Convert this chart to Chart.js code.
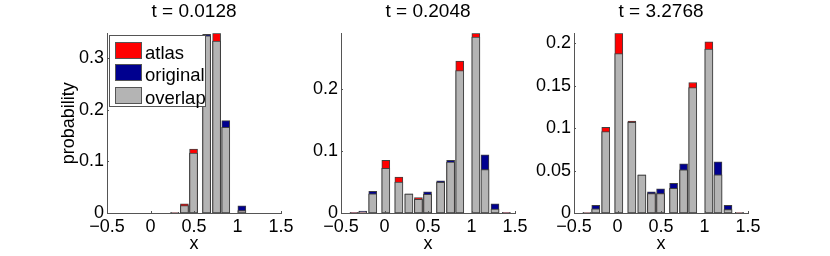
<!DOCTYPE html>
<html>
<head>
<meta charset="utf-8">
<script src="https://cdn.jsdelivr.net/npm/chart.js@4"></script>
<style>
  body { margin: 0; background: #fff; }
  #wrap { position: relative; width: 830px; height: 256px; overflow: hidden; background: #fff; }
  canvas { position: absolute; top: 0; }
  #legend { position: absolute; left: 109px; top: 35px; width: 95px; height: 70px; border: 1px solid #555; background: #fff; z-index: 5; }
  #legend .sw { position: absolute; left: 5px; width: 25px; height: 15px; border: 1px solid #555; }
  #legend .tx { position: absolute; left: 35px; height: 18px; line-height: 18px; white-space: nowrap; color: #000; font: 18.5px "Liberation Sans", Arial, sans-serif; }
</style>
</head>
<body>
<div id="wrap">
  <canvas id="c1" width="274" height="256"></canvas>
  <canvas id="c2" width="254" height="256"></canvas>
  <canvas id="c3" width="254" height="256"></canvas>
  <div id="legend"></div>
</div>
<script>
// bin centres shared by the three panels
const bins = [-0.35, -0.25, -0.135, 0.015, 0.165, 0.28, 0.39, 0.495, 0.645, 0.76, 0.865, 1.05, 1.155, 1.27, 1.4];
const titles = ['t = 0.0128', 't = 0.2048', 't = 3.2768'];
const seriesNames = ['atlas', 'original', 'overlap'];

const atlas1    = [0, 0, 0, 0, 0, 0.0015, 0.018, 0.124, 0.343, 0.348, 0.166, 0.0045, 0, 0, 0];
const original1 = [0, 0, 0, 0, 0, 0.0015, 0.0144, 0.116, 0.346, 0.333, 0.179, 0.014, 0, 0, 0];

const atlas2    = [0.0008, 0.001, 0.031, 0.085, 0.058, 0.031, 0.025, 0.030, 0.0495, 0.082, 0.245, 0.290, 0.070, 0.0065, 0.0008];
const original2 = [0.0008, 0.003, 0.035, 0.072, 0.050, 0.0305, 0.022, 0.034, 0.052, 0.085, 0.230, 0.284, 0.094, 0.015, 0.0008];

const atlas3    = [0.0008, 0.005, 0.101, 0.212, 0.1085, 0.045, 0.023, 0.023, 0.029, 0.051, 0.154, 0.202, 0.045, 0.004, 0.0008];
const original3 = [0.0008, 0.009, 0.096, 0.188, 0.107, 0.0448, 0.025, 0.0285, 0.035, 0.058, 0.148, 0.1935, 0.0605, 0.009, 0.0008];

const xTicks = [-0.5, 0, 0.5, 1, 1.5];
const yTicks1 = [0, 0.1, 0.2, 0.3];
const yTicks2 = [0, 0.1, 0.2];
const yTicks3 = [0, 0.05, 0.1, 0.15, 0.2];

const RED = '#ff0000', BLUE = '#00008f', GRAY = '#b4b4b4', EDGE = '#404040', AXIS = '#555';
const FONT = "'Liberation Sans', Arial, sans-serif";

const fmt = v => (v < 0 ? '\u2212' + Math.abs(v) : String(v));

// matlab style ticks pointing into the plot
const inwardTicks = {
  id: 'inwardTicks',
  afterDatasetsDraw(chart) {
    const { ctx, chartArea: a, scales: { x, y } } = chart;
    ctx.save();
    ctx.strokeStyle = AXIS;
    ctx.lineWidth = 1;
    ctx.beginPath();
    x.ticks.forEach(t => {
      const px = Math.round(x.getPixelForValue(t.value)) + 0.5;
      ctx.moveTo(px, a.bottom);
      ctx.lineTo(px, a.bottom - 2);
    });
    y.ticks.forEach(t => {
      const py = Math.round(y.getPixelForValue(t.value)) + 0.5;
      ctx.moveTo(a.left, py);
      ctx.lineTo(a.left + 2, py);
    });
    ctx.stroke();
    ctx.restore();
  }
};

const panels = [
  { id: 'c1', left: 27, yw: 80, atlas: atlas1, orig: original1, yTicks: yTicks1, title: titles[0], ylabel: 'probability' },
  { id: 'c2', left: 281, yw: 60, atlas: atlas2, orig: original2, yTicks: yTicks2, title: titles[1], ylabel: '' },
  { id: 'c3', left: 514, yw: 60, atlas: atlas3, orig: original3, yTicks: yTicks3, title: titles[2], ylabel: '' }
];

function makeChart(p) {
  const cv = document.getElementById(p.id);
  cv.style.left = p.left + 'px';
  const pts = vals => bins.map((x, i) => ({ x: x, y: vals[i] }));
  const overlap = p.atlas.map((a, i) => Math.min(a, p.orig[i]));
  const yMax = Math.max(...p.atlas, ...p.orig);
  const ds = (label, vals, color, order) => ({
    label: label, data: pts(vals), backgroundColor: color, borderColor: EDGE,
    borderWidth: 1, borderSkipped: false, barThickness: 8, grouped: false, order: order
  });

  new Chart(cv, {
    type: 'bar',
    data: {
      datasets: [
        ds(seriesNames[2], overlap, GRAY, 0),
        ds(seriesNames[0], p.atlas, RED, 1),
        ds(seriesNames[1], p.orig, BLUE, 2)
      ]
    },
    options: {
      responsive: false,
      animation: false,
      devicePixelRatio: 1,
      layout: { padding: { left: 0, right: 20, top: 0, bottom: 0 } },
      plugins: {
        legend: { display: false },
        tooltip: { enabled: false },
        title: {
          display: true, text: p.title, fullSize: false, color: '#000',
          font: { family: FONT, size: 19, weight: 'normal' },
          padding: { top: 0, bottom: 10.5 }
        }
      },
      scales: {
        x: {
          type: 'linear', min: -0.5, max: 1.5, offset: false,
          afterBuildTicks: s => { s.ticks = xTicks.map(v => ({ value: v })); },
          afterFit: s => { s.height = 43; },
          grid: { display: false, drawTicks: false },
          border: { display: true, color: AXIS, width: 1 },
          ticks: {
            color: '#000', font: { family: FONT, size: 18 }, padding: 3,
            maxRotation: 0, autoSkip: false, callback: v => fmt(v)
          },
          title: {
            display: true, text: 'x', color: '#000',
            font: { family: FONT, size: 18 }, padding: { top: 0, bottom: 1.5 }
          }
        },
        y: {
          min: 0, max: yMax,
          afterBuildTicks: s => { s.ticks = p.yTicks.map(v => ({ value: v })); },
          afterFit: s => { s.width = p.yw; },
          grid: { display: false, drawTicks: false },
          border: { display: true, color: AXIS, width: 1 },
          ticks: {
            color: '#000', font: { family: FONT, size: 18 }, padding: 3,
            autoSkip: false, callback: v => fmt(v)
          },
          title: {
            display: !!p.ylabel, text: p.ylabel, color: '#000',
            font: { family: FONT, size: 18 }, padding: { top: 31, bottom: 0 }
          }
        }
      }
    },
    plugins: [inwardTicks]
  });
}

panels.forEach(makeChart);

// legend box drawn over the first panel
const legendColors = [RED, BLUE, GRAY];
const lg = document.getElementById('legend');
seriesNames.forEach((name, i) => {
  const sw = document.createElement('div');
  sw.className = 'sw';
  sw.style.top = (5.7 + i * 22.5) + 'px';
  sw.style.background = legendColors[i];
  lg.appendChild(sw);
  const tx = document.createElement('div');
  tx.className = 'tx';
  tx.textContent = name;
  tx.style.top = (5.7 + i * 22.5) + 'px';
  lg.appendChild(tx);
});
</script>
</body>
</html>
